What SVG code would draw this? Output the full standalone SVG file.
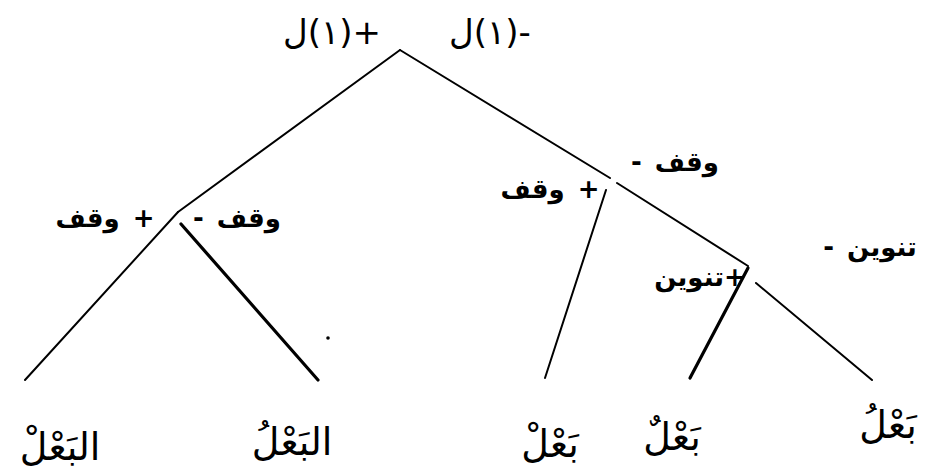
<svg xmlns="http://www.w3.org/2000/svg" width="930" height="472" viewBox="0 0 930 472">
<style>
.ln{stroke:#000;stroke-width:2;fill:none;stroke-linecap:round}
.bd{stroke-width:3.2}
.t{font-family:"DejaVu Sans","Noto Sans",sans-serif;fill:#000}
.top{font-size:34px;unicode-bidi:bidi-override;direction:ltr;letter-spacing:4px}
.lab{font-size:26px;font-weight:bold;direction:rtl;word-spacing:4px}
.w{font-size:38px;direction:rtl}
</style>
<rect width="930" height="472" fill="#fff"/>
<g id="connectors">
<line class="ln" x1="400" y1="50" x2="178" y2="212"/>
<line class="ln" x1="400" y1="50" x2="610" y2="178"/>
<line class="ln" x1="617" y1="183" x2="748" y2="266"/>
<line class="ln" x1="178" y1="212" x2="25" y2="380"/>
<line class="ln bd" x1="181" y1="224" x2="318" y2="380"/>
<line class="ln" x1="606" y1="190" x2="545" y2="378"/>
<line class="ln bd" x1="748" y1="268" x2="690" y2="378"/>
<line class="ln" x1="756" y1="283" x2="872" y2="380"/>
</g>
<circle cx="328" cy="338" r="1.8" fill="#000"/>
<g id="root">
<text class="t top" x="332" y="44" text-anchor="middle">ل(١)+</text>
<text class="t top" x="490" y="44" text-anchor="middle">ل(١)-</text>
</g>
<g id="node-left">
<text class="t lab" x="105" y="227" text-anchor="middle">+ وقف</text>
<text class="t lab" x="237" y="227" text-anchor="middle">وقف -</text>
</g>
<g id="node-right">
<text class="t lab" x="550" y="198" text-anchor="middle">+ وقف</text>
<text class="t lab" x="675" y="171" text-anchor="middle">وقف -</text>
</g>
<g id="node-tanwin">
<text class="t lab" x="700" y="286" text-anchor="middle">+تنوين</text>
<text class="t lab" x="870" y="256" text-anchor="middle">تنوين -</text>
</g>
<g id="leaf1"><text class="t w" x="60" y="460" text-anchor="middle">البَعْلْ</text></g>
<g id="leaf2"><text class="t w" x="292" y="455" text-anchor="middle">البَعْلُ</text></g>
<g id="leaf3"><text class="t w" x="550" y="457" text-anchor="middle">بَعْلْ</text></g>
<g id="leaf4"><text class="t w" x="672" y="450" text-anchor="middle">بَعْلٌ</text></g>
<g id="leaf5"><text class="t w" x="888" y="438" text-anchor="middle">بَعْلُ</text></g>
</svg>
